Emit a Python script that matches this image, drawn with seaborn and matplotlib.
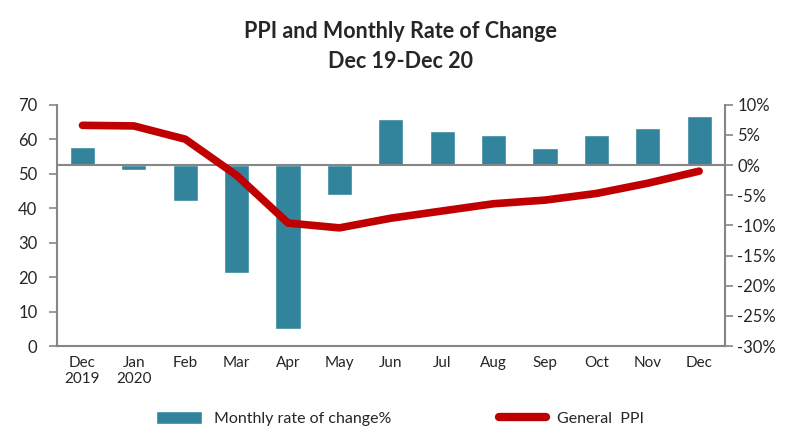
import matplotlib
matplotlib.use("Agg")
import matplotlib.pyplot as plt
import seaborn as sns
import pandas as pd
from matplotlib.patches import Patch
from matplotlib.lines import Line2D
from matplotlib.ticker import FuncFormatter

# data
months = ["Dec\n2019", "Jan\n2020", "Feb", "Mar", "Apr", "May", "Jun",
          "Jul", "Aug", "Sep", "Oct", "Nov", "Dec"]
monthly_change = [3.0, -0.8, -5.9, -17.8, -27.1, -4.9, 7.6,
                  5.7, 5.0, 2.9, 5.0, 6.1, 8.2]
general_ppi = [6.6, 6.5, 4.3, -1.7, -9.6, -10.4, -8.8,
               -7.6, -6.4, -5.8, -4.7, -3.0, -1.0]
left_ticks = [0, 10, 20, 30, 40, 50, 60, 70]
right_ticks = [-30, -25, -20, -15, -10, -5, 0, 5, 10]

df = pd.DataFrame({"month": months, "change": monthly_change, "ppi": general_ppi})

sns.set_style("white")
plt.rcParams["font.family"] = ["Lato", "DejaVu Sans"]

bar_color = "#31849B"
line_color = "#C00000"
axis_gray = "#868686"

fig = plt.figure(figsize=(8, 4.46), dpi=100)
ax = fig.add_axes([0.071, 0.224, 0.835, 0.541])
ax2 = ax.twinx()

sns.barplot(data=df, x="month", y="change", color=bar_color, width=0.49,
            saturation=1, ax=ax2, zorder=2)
ax2.axhline(0, color=axis_gray, lw=1.5, zorder=3)
sns.lineplot(x=range(len(months)), y=df["ppi"], color=line_color, lw=5.5,
             ax=ax2, zorder=4, solid_capstyle="round", solid_joinstyle="round")

ax.set_xlim(-0.5, len(months) - 0.5)
ax.set_ylim(0, 70)
ax.set_yticks(left_ticks)
ax.set_xticks(range(len(months)))
ax.set_xticklabels(months)
ax2.set_ylim(-30, 10)
ax2.set_yticks(right_ticks)
ax2.yaxis.set_major_formatter(FuncFormatter(lambda v, p: f"{v:.0f}%"))
ax2.set_xlabel("")
ax2.set_ylabel("")

for a in (ax, ax2):
    for s in a.spines.values():
        s.set_visible(False)
ax.spines["left"].set_visible(True)
ax.spines["bottom"].set_visible(True)
ax2.spines["right"].set_visible(True)
for s in (ax.spines["left"], ax.spines["bottom"], ax2.spines["right"]):
    s.set_color(axis_gray)
    s.set_linewidth(1.5)

ax.tick_params(axis="y", direction="out", length=6, width=1.2, color=axis_gray,
               labelsize=12, pad=8, left=True)
ax.tick_params(axis="x", length=0, labelsize=11, pad=7)
ax2.tick_params(axis="y", direction="out", length=6, width=1.2, color=axis_gray,
                labelsize=12, pad=3, right=True)

fig.suptitle("PPI and Monthly Rate of Change\nDec 19-Dec 20", fontsize=15.5,
             fontweight="bold", y=0.952, linespacing=1.5)

handles = [Patch(facecolor=bar_color, label="Monthly rate of change%"),
           Line2D([0], [0], color=line_color, lw=6, solid_capstyle="round",
                  label="General  PPI")]
fig.legend(handles=handles, loc="center", bbox_to_anchor=(0.5, 0.062), ncol=2,
           frameon=False, fontsize=11.5, columnspacing=6.8, handlelength=2.9,
           handleheight=0.9, handletextpad=0.7)

fig.savefig("out.png", dpi=100)
